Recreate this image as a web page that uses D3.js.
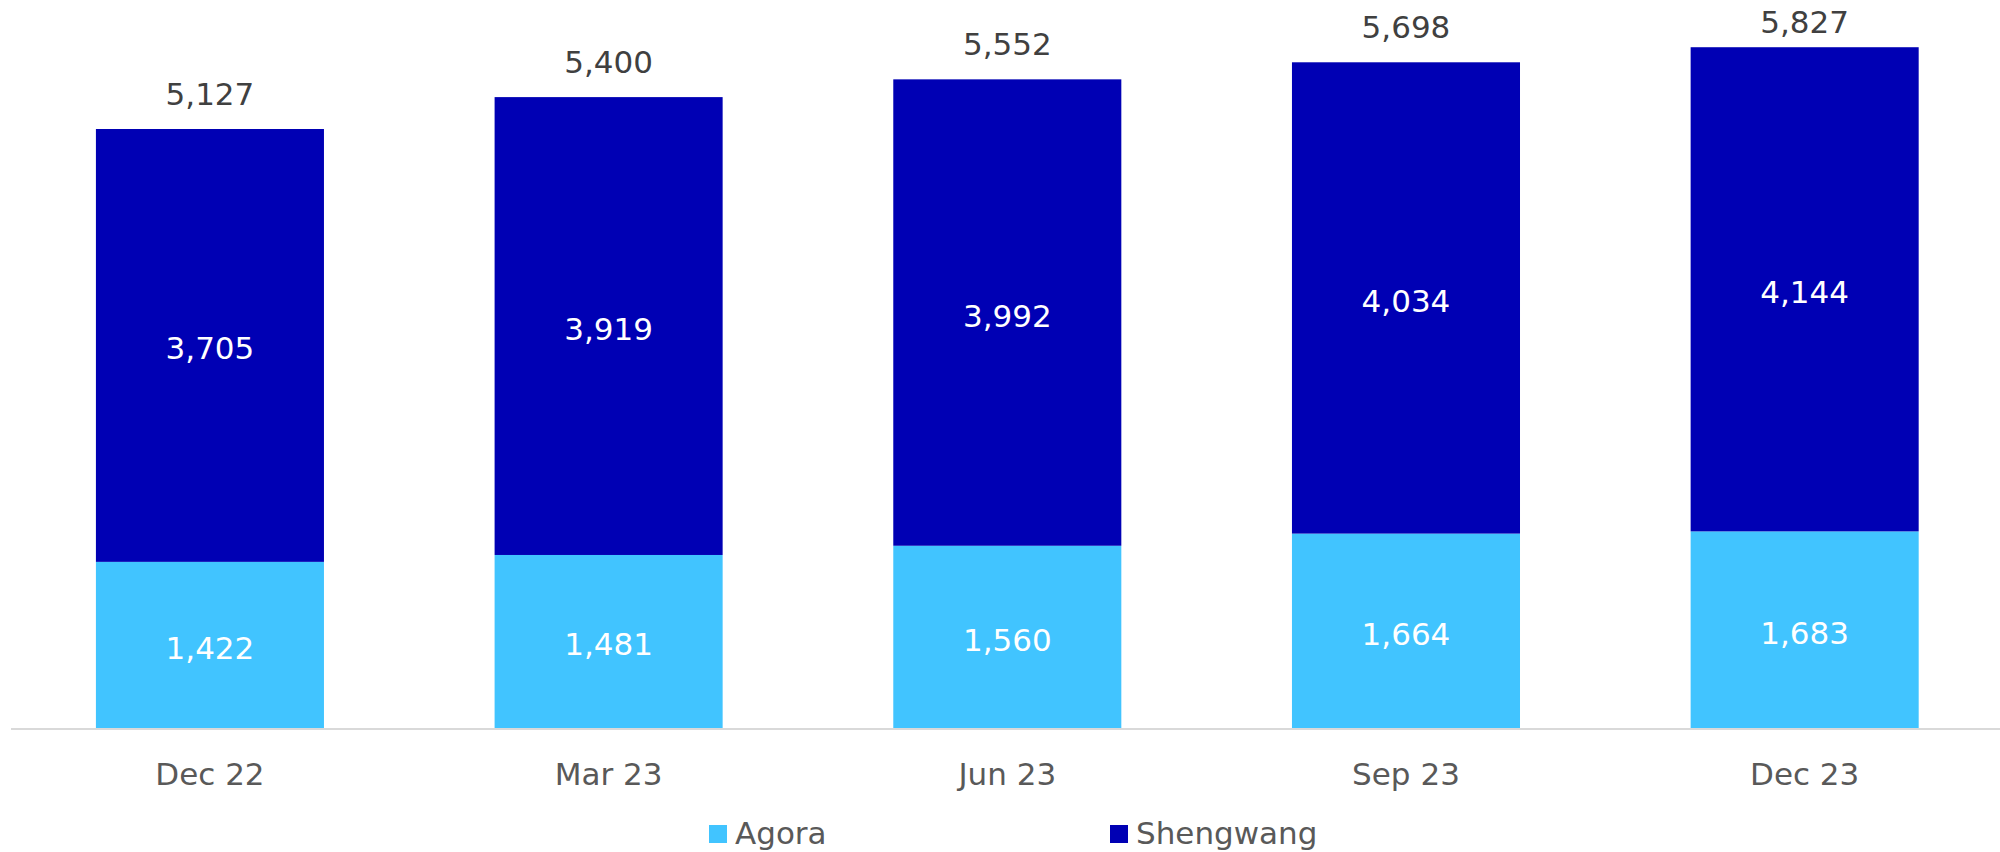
<!DOCTYPE html>
<html>
<head>
<meta charset="utf-8">
<script src="https://cdn.jsdelivr.net/npm/d3@7"></script>
<style>
  html, body { margin: 0; padding: 0; background: #ffffff; }
  svg { display: block; }
  text { font-family: "DejaVu Sans", Verdana, sans-serif; }
</style>
</head>
<body>
<svg id="chart" width="2000" height="852"></svg>
<script>
const categories = ["Dec 22", "Mar 23", "Jun 23", "Sep 23", "Dec 23"];
const agora = [1422, 1481, 1560, 1664, 1683];
const shengwang = [3705, 3919, 3992, 4034, 4144];
const totals = [5127, 5400, 5552, 5698, 5827];
const seriesNames = ["Agora", "Shengwang"];
const seriesColors = ["#41C4FF", "#0000B4"];

const W = 2000, H = 852;
const baseY = 728;
const svg = d3.select("#chart");

const rows = categories.map((c, i) => ({ cat: c, Agora: agora[i], Shengwang: shengwang[i], total: totals[i] }));
const stack = d3.stack().keys(seriesNames)(rows);

const x = d3.scaleBand()
  .domain(categories)
  .range([10.6, 2004])
  .paddingInner(0.428)
  .paddingOuter(0.214);

const y = d3.scaleLinear()
  .domain([0, 5127])
  .range([baseY, 129]);

// bars
const layers = svg.append("g").selectAll("g")
  .data(stack).join("g")
  .attr("fill", (d, i) => seriesColors[i]);

layers.selectAll("rect")
  .data(d => d).join("rect")
  .attr("x", d => x(d.data.cat))
  .attr("width", x.bandwidth())
  .attr("y", d => y(d[1]))
  .attr("height", d => y(d[0]) - y(d[1]));

// segment labels
const fmt = d3.format(",");
layers.selectAll("text")
  .data(d => d.map(v => ({ v, key: d.key }))).join("text")
  .attr("x", d => x(d.v.data.cat) + x.bandwidth() / 2)
  .attr("y", d => (y(d.v[0]) + y(d.v[1])) / 2 + 14)
  .attr("text-anchor", "middle")
  .attr("fill", "#ffffff")
  .attr("font-size", 31)
  .text(d => fmt(d.v.data[d.key]));

// totals
svg.append("g").selectAll("text")
  .data(rows).join("text")
  .attr("x", d => x(d.cat) + x.bandwidth() / 2)
  .attr("y", d => Math.max(y(d.total) - 24, 33))
  .attr("text-anchor", "middle")
  .attr("fill", "#404040")
  .attr("font-size", 31)
  .text(d => fmt(d.total));

// x axis
const axis = svg.append("g")
  .attr("transform", `translate(0,${baseY})`)
  .call(d3.axisBottom(x).tickSize(0).tickPadding(0));
axis.select(".domain").remove();
axis.selectAll("text")
  .attr("font-family", "DejaVu Sans, Verdana, sans-serif")
  .attr("font-size", 31)
  .attr("fill", "#595959")
  .attr("dy", null)
  .attr("y", 57);

svg.append("line")
  .attr("x1", 11).attr("x2", W)
  .attr("y1", baseY + 1).attr("y2", baseY + 1)
  .attr("stroke", "#d9d9d9")
  .attr("stroke-width", 2);

// legend
const legendX = [709, 1110];
const legend = svg.append("g").selectAll("g")
  .data(seriesNames).join("g")
  .attr("transform", (d, i) => `translate(${legendX[i]},825)`);
legend.append("rect")
  .attr("width", 18).attr("height", 18)
  .attr("fill", (d, i) => seriesColors[i]);
legend.append("text")
  .attr("x", 26).attr("y", 19)
  .attr("font-size", 31)
  .attr("fill", "#595959")
  .text(d => d);
</script>
</body>
</html>
